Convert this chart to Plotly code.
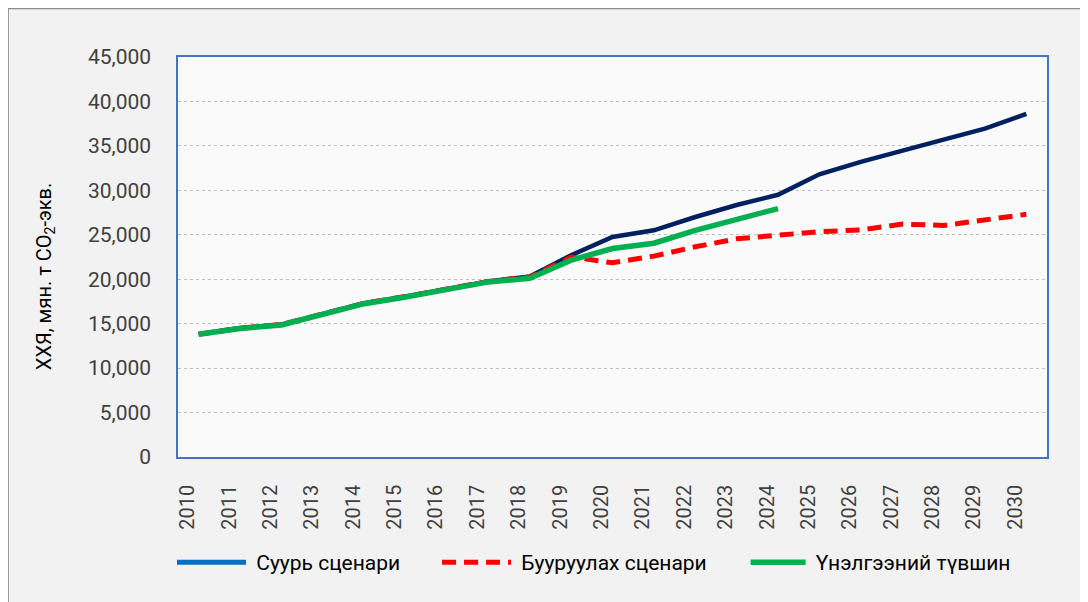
import plotly.graph_objects as go

years = list(range(2010, 2031))
base = [13800, 14500, 14900, 16050, 17300, 18050, 18850, 19750, 20300, 22700, 24750,
        25500, 27000, 28350, 29500, 31800, 33200, 34500, 35700, 36950, 38600]
mitig = [13800, 14500, 14900, 16050, 17300, 18050, 18850, 19750, 20250, 22500, 21850,
         22600, 23650, 24550, 24950, 25350, 25550, 26200, 26050, 26650, 27300]
assess_years = list(range(2010, 2025))
assess = [13800, 14450, 14850, 16000, 17250, 18000, 18800, 19700, 20100, 22150, 23450,
          24050, 25500, 26700, 27950]

names = ["Суурь сценари", "Бууруулах сценари", "Үнэлгээний түвшин"]
y_title = "ХХЯ, мян. т CO<sub>2</sub>-экв."
y_ticks = [0, 5000, 10000, 15000, 20000, 25000, 30000, 35000, 40000, 45000]

FONT = "Roboto"
PAD = "\u00a0"
fig = go.Figure()

fig.add_trace(go.Scatter(x=years, y=base, mode="lines", name=names[0], showlegend=False,
                         line=dict(color="#002060", width=4.5)))
fig.add_trace(go.Scatter(x=years, y=mitig, mode="lines", name=PAD + names[1], legend="legend2",
                         line=dict(color="#ff0000", width=5, dash="14px,8px")))
fig.add_trace(go.Scatter(x=assess_years, y=assess, mode="lines", name=PAD + names[2],
                         legend="legend3", line=dict(color="#00b050", width=5.5)))
# legend entry for base scenario (legend uses lighter blue in the original)
fig.add_trace(go.Scatter(x=[None], y=[None], mode="lines", name=PAD + names[0], legend="legend",
                         line=dict(color="#0070c0", width=5)))

# outer frame line (top and left edges visible)
fig.add_shape(type="rect", xref="paper", yref="paper", x0=-0.1955, x1=1.2, y0=-0.6, y1=1.1212,
              fillcolor="rgba(0,0,0,0)", line=dict(color="#8c8c8c", width=1.5), layer="above")

fig.add_annotation(text=y_title, xref="paper", yref="paper", x=-0.1523, y=0.4513,
                   xanchor="center", yanchor="middle", textangle=-90, showarrow=False,
                   font=dict(family=FONT, size=20, color="#000000"))

leg_common = dict(orientation="h", yref="paper", y=-0.264, yanchor="middle", xanchor="left",
                  bgcolor="rgba(0,0,0,0)",
                  font=dict(family=FONT, size=21, color="#000000"))
fig.update_layout(
    width=1088, height=602,
    margin=dict(l=170, r=49, t=49, b=153),
    paper_bgcolor="#f2f2f2", plot_bgcolor="#fafafa",
    font=dict(family=FONT, color="#404040"),
    legend=dict(x=-0.0069, itemwidth=69, **leg_common),
    legend2=dict(x=0.2981, itemwidth=69, **leg_common),
    legend3=dict(x=0.6532, itemwidth=55, **leg_common),
    xaxis=dict(range=[2009.5, 2030.5], tickvals=years, ticktext=[str(y) for y in years],
               tickangle=-90, tickfont=dict(family=FONT, size=20, color="#404040"),
               showgrid=False, zeroline=False, ticks="", ticklabelshift=-11,
               ticklabelstandoff=18, showline=True, linecolor="#4472c4", linewidth=1.5,
               mirror=True),
    yaxis=dict(range=[0, 45000], tickvals=y_ticks, tickformat=",d",
               tickfont=dict(family=FONT, size=21, color="#404040"),
               showgrid=True, gridcolor="#bfbfbf", griddash="dot", gridwidth=1,
               zeroline=False, ticks="", ticklabelstandoff=21,
               showline=True, linecolor="#4472c4", linewidth=1.5, mirror=True),
)

fig.write_html("out.html")
